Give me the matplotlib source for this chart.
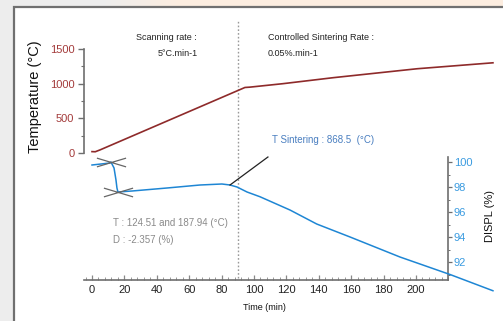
import matplotlib
matplotlib.use('Agg')
import matplotlib.pyplot as plt
import numpy as np
from matplotlib.path import Path
from matplotlib.ticker import FixedLocator
from matplotlib.patches import Rectangle

plt.rcParams['font.family'] = ['Liberation Sans', 'DejaVu Sans']

# ---------------- data ----------------
temp_time = [0, 2, 5, 94.4, 97.5, 117.9, 148.8, 200.6, 247.5]
temp_vals = [20, 18, 45, 945, 950, 1000, 1086, 1215, 1301]

displ_time = [0, 11.1, 11.7, 13.6, 14.8, 15.4, 16.0, 24.7, 46.3, 66.7, 80.2,
              85.2, 89.5, 95.7, 103.7, 122.2, 138.7, 159.3, 190.1, 221, 247.5]
displ_vals = [99.76, 99.92, 100.0, 99.52, 98.56, 97.92, 97.6, 97.68, 97.92, 98.16,
              98.24, 98.16, 98.0, 97.6, 97.22, 96.16, 95.04, 94.0, 92.4, 91.0, 89.7]

onset_time = [11.7, 16.0]
onset_displ = [100.0, 97.6]

sinter_time = 85.2
sinter_displ = 98.16
sinter_label = "T Sintering : 868.5  (°C)"

x_ticks = [0, 20, 40, 60, 80, 100, 120, 140, 160, 180, 200]
temp_ticks = [0, 500, 1000, 1500]
displ_ticks = [92, 94, 96, 98, 100]
switch_time = 90

W, H = 503, 321
fig = plt.figure(figsize=(W / 100, H / 100), dpi=100)

# background
bg = fig.add_axes([0, 0, 1, 1], zorder=-10)
grad = np.zeros((2, 100, 3))
left_c = np.array([0.93, 0.93, 0.93])
right_c = np.array([0.99, 0.93, 0.88])
for i in range(100):
    f = min(1, max(0, (i - 20) / 15))
    grad[:, i, :] = left_c * (1 - f) + right_c * f
bg.imshow(grad, aspect='auto', extent=[0, 1, 0, 1])
bg.set_xlim(0, 1)
bg.set_ylim(0, 1)
bg.axis('off')
bg.add_patch(Rectangle((14 / W, -0.05), 1.2, 1 - 7 / H + 0.05, facecolor='white',
                       edgecolor='#707070', lw=1.6))


def px(x0, y0, x1, y1):
    return [x0 / W, 1 - y1 / H, (x1 - x0) / W, (y1 - y0) / H]


ax = fig.add_axes(px(84, 20, 497, 300))
ax.patch.set_alpha(0)
t_per_px = 1 / 1.62
ax.set_xlim(-8 * t_per_px, 405 * t_per_px)
Tpp = 1500 / 104.0
ax.set_ylim(-(300 - 153) * Tpp, (153 - 20) * Tpp)

ax2 = ax.twinx()
ax2.patch.set_alpha(0)
ax2.set_ylim(100 - (300 - 162) / 12.5, 100 + (162 - 20) / 12.5)

for a in (ax, ax2):
    for s in a.spines.values():
        s.set_visible(False)

spine_col = '#6e6e6e'
# left temperature spine
ax.spines['left'].set_visible(True)
ax.spines['left'].set_bounds(0, 1500)
ax.spines['left'].set_color(spine_col)
ax.spines['left'].set_linewidth(1.2)
ax.yaxis.set_major_locator(FixedLocator(temp_ticks))
ax.yaxis.set_minor_locator(FixedLocator([250, 750, 1250]))
ax.tick_params(axis='y', which='major', length=4, width=1, color=spine_col,
               labelcolor='#a33a3a', labelsize=8, pad=3)
ax.tick_params(axis='y', which='minor', length=2.5, width=0.8, color=spine_col)

# bottom time axis
ax.spines['bottom'].set_visible(True)
ax.spines['bottom'].set_position(('axes', 20 / 280))
ax.spines['bottom'].set_bounds(-5, 220)
ax.spines['bottom'].set_color(spine_col)
ax.spines['bottom'].set_linewidth(1.2)
ax.xaxis.set_major_locator(FixedLocator(x_ticks))
ax.xaxis.set_minor_locator(FixedLocator(list(range(-4, 221, 4))))
ax.tick_params(axis='x', which='major', direction='in', length=3.5, width=0.9,
               color='#888888', labelsize=8, labelcolor='#222222', pad=3.5)
ax.tick_params(axis='x', which='minor', direction='in', length=2.5, width=0.7,
               color='#999999')

# right displ spine
ax2.spines['right'].set_visible(True)
ax2.spines['right'].set_position(('data', 220))
ax2.spines['right'].set_bounds(100 - (280 - 162) / 12.5, 100.4)
ax2.spines['right'].set_color(spine_col)
ax2.spines['right'].set_linewidth(1.2)
ax2.yaxis.set_major_locator(FixedLocator(displ_ticks))
ax2.yaxis.set_minor_locator(FixedLocator([91, 93, 95, 97, 99]))
ax2.tick_params(axis='y', which='major', length=3, width=0.9, color=spine_col,
                labelcolor='#3a9be0', labelsize=8, pad=1)
ax2.tick_params(axis='y', which='minor', length=1.5, width=0.7, color=spine_col)

# switch line
ax.axvline(switch_time, ymin=22 / 280, ymax=1, color='#999999', lw=1,
           linestyle=(0, (1.2, 1.5)))

# curves
ax.plot(temp_time, temp_vals, color='#8e2a2a', lw=1.2, clip_on=False, zorder=3)
ax2.plot(displ_time, displ_vals, color='#1e86d4', lw=1.1, clip_on=False, zorder=3)

# onset X markers
xmark = Path([(-1, -0.3), (1, 0.3), (-1, 0.3), (1, -0.3)],
             [Path.MOVETO, Path.LINETO, Path.MOVETO, Path.LINETO])
ax2.plot(onset_time, onset_displ, linestyle='none', marker=xmark, markersize=21,
         markeredgecolor='#666666', markeredgewidth=0.9, markerfacecolor='none', zorder=4)

# sintering annotation
ax2.plot([sinter_time, 108.6], [sinter_displ, 100.4], color='#222222', lw=0.9,
         zorder=4)
ax2.text(111, 101.76, sinter_label, fontsize=7, color='#4a7fc0', ha='left',
         va='center')

ax2.text(13, 95.12, "T : 124.51 and 187.94 (°C)", fontsize=7, color='#8a8a8a',
         ha='left', va='center')
ax2.text(13, 93.76, "D : -2.357 (%)", fontsize=7, color='#8a8a8a',
         ha='left', va='center')

ax.text(45.7, (153 - 37) * Tpp, "Scanning rate :", fontsize=6.5, color='#222222',
        ha='center', va='center')
ax.text(53, (153 - 53) * Tpp, "5°C.min-1", fontsize=6.5, color='#222222',
        ha='center', va='center')
ax.text(108.6, (153 - 37) * Tpp, "Controlled Sintering Rate :", fontsize=6.5,
        color='#222222', ha='left', va='center')
ax.text(108.6, (153 - 53) * Tpp, "0.05%.min-1", fontsize=6.5, color='#222222',
        ha='left', va='center')

fig.text(35 / W, 1 - 97 / H, "Temperature (°C)", rotation=90, fontsize=10.5,
         ha='center', va='center', color='#111111')
fig.text(490 / W, 1 - 216 / H, "DISPL (%)", rotation=90, fontsize=8,
         ha='center', va='center', color='#111111')
fig.text(264 / W, 1 - 307 / H, "Time (min)", fontsize=6.5, ha='center',
         va='center', color='#111111')

fig.savefig('out.png', dpi=100)
